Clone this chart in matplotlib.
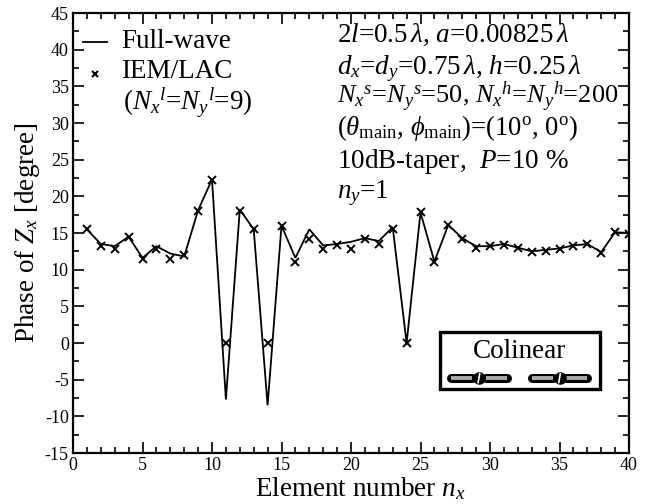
import matplotlib
matplotlib.use('Agg')
import matplotlib.pyplot as plt
from matplotlib.patches import Rectangle

plt.rcParams['font.family'] = ['Liberation Serif', 'DejaVu Serif']
plt.rcParams['mathtext.fontset'] = 'custom'
plt.rcParams['mathtext.rm'] = 'Liberation Serif'
plt.rcParams['mathtext.it'] = 'Liberation Serif:italic'
plt.rcParams['mathtext.bf'] = 'Liberation Serif:bold'
plt.rcParams['axes.unicode_minus'] = False

# Значения
element = list(range(1, 41))
full_wave = [15.5, 13.5, 13.2, 14.5, 11.6, 13.2, 12.2, 11.8, 18.1, 22.3,
             -7.7, 18.2, 15.5, -8.5, 16.0, 11.6, 15.5, 13.3, 13.5, 13.8,
             14.3, 13.9, 15.8, 0.0, 17.8, 11.1, 16.1, 14.3, 13.2, 13.2,
             13.5, 13.0, 12.5, 12.7, 12.9, 13.3, 13.5, 12.4, 15.1, 15.0]
iem_lac = [15.5, 13.2, 12.8, 14.4, 11.5, 12.8, 11.4, 12.0, 18.0, 22.2,
           0.0, 18.0, 15.5, 0.0, 15.9, 11.1, 14.2, 12.8, 13.3, 12.8,
           14.2, 13.5, 15.6, 0.0, 17.8, 11.0, 16.1, 14.2, 12.9, 13.2,
           13.4, 12.9, 12.4, 12.6, 12.8, 13.2, 13.5, 12.3, 15.2, 14.8]
x_ticks = list(range(0, 41, 5))
y_ticks = list(range(-15, 46, 5))
info_lines = [r'$2l$=0.5$\,\lambda$, $a$=0.00825$\,\lambda$',
              r'$d_x$=$d_y$=0.75$\,\lambda$, $h$=0.25$\,\lambda$',
              r'$N_x{}^s$=$N_y{}^s$=50, $N_x{}^h$=$N_y{}^h$=200',
              r'($\theta_{\mathrm{main}}$, $\phi_{\mathrm{main}}$)=(10$^{\mathrm{o}}$, 0$^{\mathrm{o}}$)',
              r'10dB-taper,  $P$=10 %',
              r'$n_y$=1']
info_y = [41.1, 36.7, 32.7, 28.4, 23.8, 19.8]
info_size = [19.5, 19.5, 19, 19.2, 19.5, 19.5]
dipole_centers = [29.2, 35.0]

fig = plt.figure(figsize=(6.57, 5.04), dpi=100)
ax = fig.add_axes([73 / 657, 1 - 453 / 504, 556 / 657, 440 / 504])

ax.plot(element, full_wave, color='black', lw=1.3, solid_joinstyle='miter')
ax.plot(element, iem_lac, ls='none', marker='x', ms=5.5, mew=1.4, color='black')

ax.set_xlim(0, 40)
ax.set_ylim(-15, 45)
ax.set_xticks(x_ticks)
ax.set_yticks(y_ticks)
ax.set_xticks(range(0, 41), minor=True)
ax.set_yticks([v / 2 for v in range(-30, 91, 5)], minor=True)
ax.tick_params(which='major', direction='in', top=True, right=True, length=8, width=1.2,
               labelsize=13, pad=3)
ax.tick_params(which='minor', direction='in', top=True, right=True, length=4, width=1.2)
for spine in ax.spines.values():
    spine.set_linewidth(1.6)

ax.set_xlabel(r'Element number $n_x$', fontsize=19.5, labelpad=1, x=0.516)
ax.set_ylabel(r'Phase of $Z_x$ [degree]', fontsize=19.5, labelpad=2)

# Легенда
ax.plot([0.7, 2.45], [41.1, 41.1], color='black', lw=1.3)
ax.plot([1.6], [36.7], ls='none', marker='x', ms=5, mew=1.5, color='black')
ax.text(3.45, 40.2, 'Full-wave', fontsize=19.5, va='baseline')
ax.text(3.45, 36.1, 'IEM/LAC', fontsize=19.5, va='baseline')
ax.text(3.6, 31.8, r'($N_x{}^l$=$N_y{}^l$=9)', fontsize=19.5, va='baseline')

for y, line, size in zip(info_y, info_lines, info_size):
    ax.text(19.0, y, line, fontsize=size, va='baseline')

# Значок диполей
ax.add_patch(Rectangle((26.4, -6.3), 11.5, 7.8, fc='white', ec='black', lw=2.4, zorder=3))
ax.text(32.15, -1.2, 'Colinear', fontsize=19.5, ha='center', va='center', zorder=4)
for c in dipole_centers:
    for x0, x1 in [(c - 2.0, c - 0.5), (c + 0.5, c + 2.0)]:
        ax.plot([x0, x1], [-4.8, -4.8], color='black', lw=6.5, solid_capstyle='round', zorder=4)
        ax.plot([x0, x1], [-4.8, -4.8], color='#aaaaaa', lw=2.8, solid_capstyle='butt', zorder=5)
    ax.plot([c], [-4.8], marker='o', ms=8, color='black', zorder=5)
    ax.plot([c - 0.06, c + 0.06], [-5.4, -4.2], color='white', lw=1.2, zorder=6)

fig.savefig('out.png', dpi=100)
